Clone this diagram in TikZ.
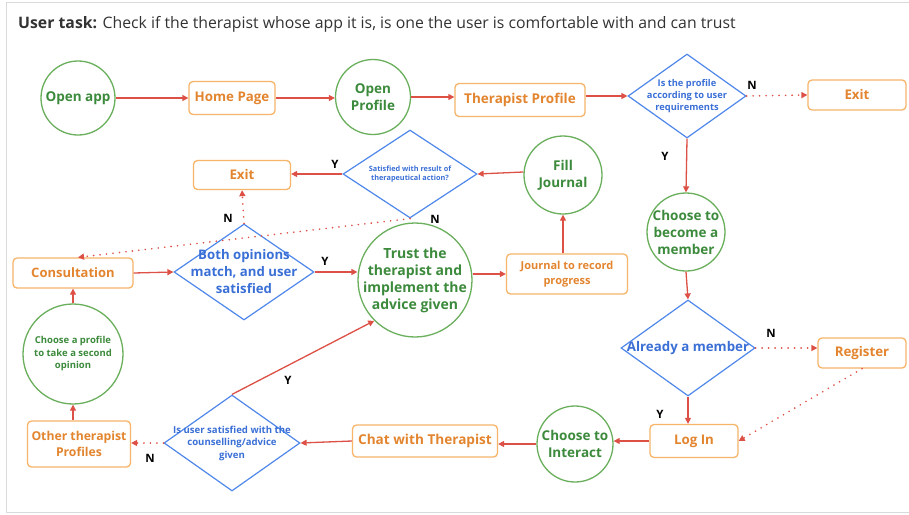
\documentclass[tikz,border=0pt]{standalone}
\usepackage{fontspec}
\setmainfont{Open Sans}
\usetikzlibrary{shapes.geometric,arrows.meta}

\definecolor{gline}{HTML}{6AAF5C}
\definecolor{gtext}{HTML}{3C8A3C}
\definecolor{oline}{HTML}{F7B56A}
\definecolor{otext}{HTML}{E3852F}
\definecolor{bline}{HTML}{4F87EA}
\definecolor{btext}{HTML}{3A6FD6}
\definecolor{redc}{HTML}{DD5045}
\definecolor{framec}{HTML}{DADADA}

\newcommand\setfs[2]{\fontsize{#1}{#2}\selectfont}

\tikzset{
  circ/.style={circle, draw=gline, line width=1.3pt, inner sep=0pt, fill=white},
  ctext/.style={text=gtext, font=\bfseries\setfs{13.5}{17}, align=center},
  box/.style={rectangle, rounded corners=4pt, draw=oline, line width=1.3pt, fill=white,
              text=otext, font=\bfseries\setfs{13.3}{16.5}, align=center, inner sep=0pt},
  dia/.style={diamond, draw=bline, line width=1.2pt, inner sep=0pt, fill=white},
  dtext/.style={text=btext, font=\bfseries\setfs{13.3}{16.5}, align=center},
  yn/.style={font=\bfseries\setfs{11.5}{13}, text=black},
  ar/.style={draw=redc, line width=1.3pt, -{Triangle[length=6pt,width=6pt]}},
  dar/.style={ar, line width=1.8pt, line cap=round, dash pattern=on 0pt off 6.5pt}
}

\begin{document}
\begin{tikzpicture}[x=1pt,y=-1pt]
% page and frame
\fill[white] (0,0) rectangle (909,514);
\useasboundingbox (0,0) rectangle (909,514);
\draw[framec, line width=1pt] (909,2.5) -- (6.5,2.5) -- (6.5,512.5) -- (909,512.5);

% heading
\node[anchor=west, inner sep=0pt, font=\setfs{15.8}{18}, text=black!80] (title) at (18,24)
  {\textbf{User task:} Check if the therapist whose app it is, is one the user is comfortable with and can trust};

% top row
\node[circ, minimum size=74, label={[ctext]center:Open app}] (oa) at (78,98) {};
\node[box, minimum width=86, minimum height=33] (hp) at (232,98) {Home Page};
\node[circ, minimum size=75, label={[ctext]center:{Open\\Profile}}] (op) at (373,97) {};
\node[box, minimum width=130, minimum height=33, font=\bfseries\setfs{13.5}{16.5}] (tp) at (520,100) {Therapist Profile};
\node[dia, minimum width=118, minimum height=84,
      label={[dtext, font=\bfseries\setfs{9.3}{12}]center:{Is the profile\\according to user\\requirements}}] (d1) at (687,96) {};
\node[box, minimum width=98, minimum height=30] (ex1) at (857,95) {Exit};

% right column
\node[circ, minimum size=78, label={[ctext]center:{Choose to\\become a\\member}}] (bm) at (686,232) {};
\node[dia, minimum width=134, minimum height=96,
      label={[dtext]center:Already a member}] (am) at (688,348) {};
\node[box, minimum width=88, minimum height=30] (rg) at (862,353) {Register};
\node[box, minimum width=88, minimum height=33] (li) at (694,441) {Log In};

% bottom row
\node[circ, minimum size=76, label={[ctext]center:{Choose to\\Interact}}] (ci) at (575,444) {};
\node[box, minimum width=145, minimum height=32, font=\bfseries\setfs{13.6}{16.5}] (ch) at (425,441) {Chat with Therapist};
\node[dia, minimum width=136, minimum height=96,
      label={[dtext, font=\bfseries\setfs{9.6}{12.5}]center:{Is user satisfied with the\\counselling/advice\\given}}] (d2) at (232,443) {};
\node[box, minimum width=103, minimum height=46, font=\bfseries\setfs{12.2}{16}] (ot) at (79,444) {Other therapist\\Profiles};

% left column and middle
\node[circ, minimum size=100,
      label={[ctext, font=\bfseries\setfs{9.5}{12.5}]center:{Choose a profile\\to take a second\\opinion}}] (cp) at (73,354) {};
\node[box, minimum width=120, minimum height=30, font=\bfseries\setfs{13}{16}] (cs) at (73,273) {Consultation};
\node[dia, minimum width=140, minimum height=96,
      label={[dtext, font=\bfseries\setfs{13.2}{17}]center:{Both opinions\\match, and user\\satisfied}}] (d3) at (244,272) {};
\node[circ, minimum size=114,
      label={[ctext, font=\bfseries\setfs{14}{17}]center:{Trust the\\therapist and\\implement the\\advice given}}] (tr) at (415,280) {};
\node[box, minimum width=121, minimum height=40, font=\bfseries\setfs{11}{15}] (jr) at (567,274) {Journal to record\\progress};
\node[circ, minimum size=78, label={[ctext]center:{Fill\\Journal}}] (fj) at (563,175) {};
\node[dia, minimum width=134, minimum height=88,
      label={[dtext, font=\bfseries\setfs{7.3}{9.8}]center:{Satisfied with result of\\therapeutical action?}}] (d4) at (410,174) {};
\node[box, minimum width=97, minimum height=29] (ex2) at (242,175) {Exit};

% connectors
\draw[ar] (oa) -- (hp);
\draw[ar] (hp) -- (hp -| op.west);
\draw[ar] (op.east) -- (op.east -| tp.west);
\draw[ar] (tp.east |- d1.west) -- (d1.west);
\draw[dar] (d1.east) -- (ex1.west);
\draw[ar] (d1.south) -- (bm.north);
\draw[ar] (bm.south) -- (am.north);
\draw[dar] (am.east) -- (am.east -| rg.west);
\draw[ar] (am.south) -- (am.south |- li.north);
\draw[dar] (rg.south) -- (li.east);
\draw[ar] (li.west) -- (li.west -| ci.east);
\draw[ar] (ci.west) -- (ci.west -| ch.east);
\draw[ar] (ch.west) -- (d2.east);
\draw[dar] (d2.west) -- (d2.west -| ot.east);
\draw[ar] (d2.north) -- (tr.225);
\draw[ar] (cp.south |- ot.north) -- (cp.south);
\draw[ar] (cp.north) -- (cs.south);
\draw[ar] (cs.east) -- (d3.west);
\draw[ar] (d3.east) -- (d3.east -| tr.west);
\draw[ar] (jr.west -| tr.east) -- (jr.west);
\draw[ar] (fj.south |- jr.north) -- (fj.south);
\draw[ar] (fj.west) ++(0,-3) -- (d4.east);
\draw[ar] (d4.west) -- (d4.west -| ex2.east);
\draw[dar] (d3.north) -- (ex2.south);
\draw[dar] (d4.south) -- ([xshift=5pt]cs.north);

% branch labels
\node[yn] (n1) at (752,85) {N};
\node[yn] (y1) at (665,156) {Y};
\node[yn] (n2) at (771,333) {N};
\node[yn] (y2) at (660,414) {Y};
\node[yn] (n3) at (150,458) {N};
\node[yn] (y3) at (288,380) {Y};
\node[yn] (y4) at (325,261) {Y};
\node[yn] (y5) at (335,164) {Y};
\node[yn] (n4) at (228,218) {N};
\node[yn] (n5) at (435,219) {N};
\end{tikzpicture}
\end{document}
